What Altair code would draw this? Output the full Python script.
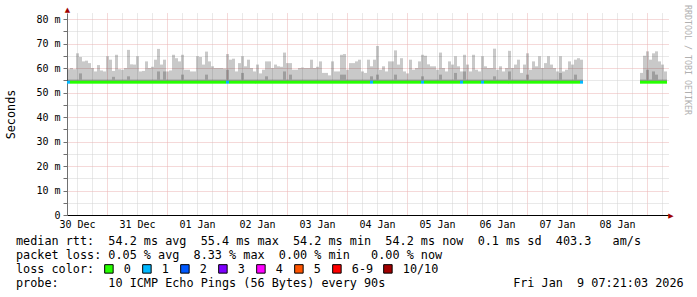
import altair as alt
import pandas as pd

MONO = "DejaVu Sans Mono"
NB = "\u00a0"

# ---------------- data ----------------
start_time = "2025-12-30T08:00:00Z"   # left edge of plot
end_time = "2026-01-09T08:24:00Z"     # right edge of plot
bin_minutes = 72                      # one smoke column = 72 minutes

# upper edge of the smoke (max ping, ms) per 72-minute column; None = no data
smoke_max = [
    59.5, 60, 59.5, 66, 64.5, 62.7, 63, 62, 60, 58.6, 61.2, 59, 58.6, 64.8, 63.4, 58.8, 65.4, 59.5, 59.3, 60,
    67.4, 61.5, 61.4, 64.8, 58.6, 58.8, 62.7, 60, 60.5, 63.4, 67.8, 61.4, 63.4, 58.6, 59, 65.4, 64, 62.7, 65.4, 59.3,
    59.3, 58.6, 58.6, 64.8, 64.5, 61.4, 66.7, 62.7, 60.7, 60, 60, 60, 59.8, 65.7, 63.4, 63.8, 58.6, 62, 64.8, 60.7,
    63.4, 60, 58.6, 61.4, 57.8, 59.3, 62.7, 62.7, 60, 61.4, 60.7, 60.5, 66.3, 62, 62, 59.3, 59.3, 60, 60.2, 60,
    60, 63.4, 60, 60.5, 62.7, 58, 58, 57, 62.7, 58.6, 58.6, 65.4, 65.7, 59.3, 62, 62, 62.7, 63.4, 58.6, 58,
    63.4, 60.7, 63.4, 69, 59.3, 60.7, 58.6, 62.7, 62.7, 67.2, 61.4, 64, 58.6, 57.8, 63.4, 59.3, 60, 62.7, 65.4, 65,
    61.5, 60.7, 60.7, 59.3, 66.3, 60, 58.6, 62.7, 61.4, 64.8, 60.7, 58.6, 65.4, 61.4, 58.6, 65.4, 59.3, 58.6, 64.8, 60.7,
    60, 60, 67.9, 59.3, 60.7, 58.6, 60, 67, 60, 61.4, 63.4, 58, 61.4, 66, 59.3, 62.7, 60.7, 64.8, 60, 62,
    64.8, 61.4, 60, 58.6, 64.8, 58.6, 59.3, 62.7, 61.4, 63.4, 64, 63.4,
    None, None, None, None, None, None, None, None, None, None, None, None, None, None, None, None, None, None, None,
    58, 65, 66.8, 63.4, 66, 66.8, 62.7, 61.4, 58.6,
]
smoke_floor = 54.0          # lower edge of the smoke
inner_base = 55.3           # darker smoke band just above the median
inner_spikes = {4: 57.8, 15: 56.4, 20: 56.6, 30: 58.6, 32: 58.6, 38: 57.3, 46: 57.3, 53: 59.3,
                58: 58.0, 66: 56.6, 72: 58.6, 74: 57.3, 91: 57.3, 92: 57.3, 101: 56.6, 103: 57.3,
                109: 57.3, 118: 56.6, 124: 57.3, 129: 58.0, 132: 58.6, 142: 56.6, 147: 58.6,
                153: 57.3, 164: 58.0, 169: 57.3, 193: 59.3, 195: 58.6, 196: 57.3}
median_rtt = 54.2
loss_one_bins = [0, 53, 101, 118, 131, 138, 171]   # columns with 1/10 lost

loss_labels = ["0", "1", "2", "3", "4", "5", "6-9"]
loss_colors = ["#26ff00", "#00b8ff", "#0059ff", "#7e00ff", "#ff00ff", "#ff5500", "#ff0000"]
full_loss_label = "10/10"
full_loss_color = "#a10000"

y_ticks = list(range(0, 81, 5))

row1 = "median rtt:  54.2 ms avg  55.4 ms max  54.2 ms min  54.2 ms now  0.1 ms sd  403.3   am/s"
row2 = "packet loss: 0.05 % avg  8.33 % max  0.00 % min   0.00 % now"
row4 = "probe:       10 ICMP Echo Pings (56 Bytes) every 90s                  Fri Jan  9 07:21:03 2026"
credit = "RRDTOOL / TOBI OETIKER"

# ---------------- build table ----------------
t0 = pd.Timestamp(start_time)
t_end = pd.Timestamp(end_time)
ms = lambda ts: int(ts.value // 10**6)
rows = []
for i, mx in enumerate(smoke_max):
    if mx is None:
        continue
    ts = t0 + pd.Timedelta(minutes=bin_minutes * i)
    te = ts + pd.Timedelta(minutes=bin_minutes)
    rows.append(dict(t=ms(ts), t2=ms(te), floor=smoke_floor, smoke=mx,
                     inner=inner_spikes.get(i, inner_base), median=median_rtt,
                     loss="1" if i in loss_one_bins else "0"))
df = pd.DataFrame(rows)

x_vals = [ms(v) for v in pd.date_range(pd.Timestamp("2025-12-30T12:00:00Z"), t_end, freq="6h")]

GRID_MAJOR = "#eab3b3"
GRID_MINOR = "#d2d2d2"

x_scale = alt.Scale(type="utc", domain=[ms(t0), ms(t_end)])
x_axis = alt.Axis(
    values=x_vals, title=None, ticks=False,
    labelExpr="utchours(datum.value) == 12 ? utcFormat(datum.value, '%d %b') : ''",
    grid=True, gridDash=[1, 1], gridWidth=1,
    gridColor={"condition": {"test": "utchours(datum.value) == 0", "value": GRID_MAJOR}, "value": GRID_MINOR},
    labelFont=MONO, labelFontSize=10, labelColor="#000", labelPadding=4,
    labelFlush=False, labelOverlap=False, domainColor="#000", domainWidth=1,
)
y_scale = alt.Scale(domain=[0, 82.45], nice=False, zero=False)
y_axis = alt.Axis(
    values=y_ticks, title="Seconds",
    labelExpr=f"datum.value == 0 ? '0{NB}{NB}' : (datum.value % 10 == 0 ? datum.value + '{NB}m' : '')",
    grid=True, gridDash=[1, 1], gridWidth=1,
    gridColor={"condition": {"test": "datum.value % 10 == 0", "value": GRID_MAJOR}, "value": GRID_MINOR},
    labelFont=MONO, labelFontSize=10, labelColor="#000", labelPadding=3,
    tickSize=4, tickColor="#707070", domainColor="#707070",
    titleFont=MONO, titleFontSize=11.8, titleFontWeight="normal", titleColor="#000",
    titleX=-57, titleY=101, titleAlign="center", titleBaseline="middle",
)

legend_common = dict(
    orient="none", legendY=250, direction="horizontal", symbolType="square", gridAlign="none",
    symbolSize=72, symbolStrokeColor="#000", symbolStrokeWidth=1, symbolOpacity=1,
    labelFont=MONO, labelFontSize=11.8, labelColor="#000", labelOffset=9, columnPadding=9,
)

base = alt.Chart(df)
X = alt.X("t:T", scale=x_scale, axis=x_axis)

light = base.mark_rect(color="#000", opacity=0.21).encode(
    x=X, x2="t2:T", y=alt.Y("floor:Q", scale=y_scale, axis=y_axis), y2="smoke:Q")
dark = base.mark_rect(color="#000", opacity=0.21).encode(
    x=X, x2="t2:T", y=alt.Y("floor:Q", scale=y_scale, axis=y_axis), y2="inner:Q")
median = base.transform_calculate(lo="datum.median - 0.6", hi="datum.median + 0.6").mark_rect(opacity=1).encode(
    x=X, x2="t2:T", y=alt.Y("lo:Q", scale=y_scale, axis=y_axis), y2="hi:Q",
    color=alt.Color("loss:N", scale=alt.Scale(domain=loss_labels, range=loss_colors),
                    legend=alt.Legend(title="loss color:", legendX=-51, titleOrient="left",
                                      titleFont=MONO, titleFontSize=11.8, titleFontWeight="normal",
                                      titleColor="#000", titlePadding=8, titleBaseline="middle",
                                      **legend_common)))

# legend entry for the "all lost" colour (no such column in this period)
full_loss = alt.Chart(pd.DataFrame({"k": [full_loss_label]})).mark_rect(opacity=0).encode(
    x=alt.value(0), x2=alt.value(0), y=alt.value(0), y2=alt.value(0),
    color=alt.Color("k:N", scale=alt.Scale(domain=[full_loss_label], range=[full_loss_color]),
                    legend=alt.Legend(title=None, legendX=315, **legend_common)))


def line(s, x, y, align="left", **kw):
    return alt.Chart(pd.DataFrame({"s": [s.replace(" ", NB)]})).mark_text(
        align=align, baseline="alphabetic", font=MONO, fontSize=11.8, color="#000", **kw
    ).encode(text="s:N", x=alt.value(x), y=alt.value(y))


texts = [line(row1, -51, 232), line(row2, -51, 246), line(row4, -51, 274)]
credit_txt = alt.Chart(pd.DataFrame({"s": [credit.replace(" ", NB)]})).mark_text(
    align="left", baseline="middle", angle=90, font=MONO, fontSize=8.3, color="#b0b0b0"
).encode(text="s:N", x=alt.value(620), y=alt.value(-8))

arrow_up = alt.Chart(pd.DataFrame({"s": ["\u25b2"]})).mark_text(
    font="DejaVu Sans", fontSize=7, color="#a00000", align="center", baseline="middle"
).encode(text="s:N", x=alt.value(0.5), y=alt.value(-3))
arrow_right = alt.Chart(pd.DataFrame({"s": ["\u25b6"]})).mark_text(
    font="DejaVu Sans", fontSize=7, color="#a00000", align="center", baseline="middle"
).encode(text="s:N", x=alt.value(604), y=alt.value(202.5))

chart = alt.layer(light, dark, median, full_loss, *texts, credit_txt, arrow_up, arrow_right).resolve_scale(
    color="independent"
).properties(
    width=601, height=202,
    autosize=alt.AutoSizeParams(type="none"),
    padding={"left": 67, "top": 13, "right": 29, "bottom": 82},
    background="white",
).configure_view(stroke=None)

chart.save("out.html", embed_options={"renderer": "svg", "actions": False})
